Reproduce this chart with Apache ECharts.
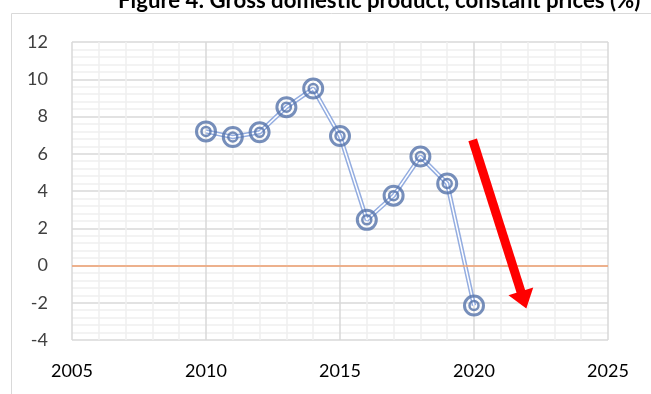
<!DOCTYPE html>
<html>
<head>
<meta charset="utf-8">
<script src="https://cdn.jsdelivr.net/npm/echarts@6/dist/echarts.min.js"></script>
<style>
  html, body { margin: 0; padding: 0; background: #fff; }
  #chart { width: 651px; height: 394px; }
</style>
</head>
<body>
<div id="chart"></div>
<script>
// Annual GDP growth, constant prices (%)
const years = [2010, 2011, 2012, 2013, 2014, 2015, 2016, 2017, 2018, 2019, 2020];
const growth = [7.2, 6.9, 7.15, 8.5, 9.5, 6.95, 2.45, 3.75, 5.85, 4.4, -2.15];
// Downward trend arrow: [year, value] start and end
const arrowStart = [2019.95, 6.75];
const arrowEnd = [2021.85, -1.85];
const zeroLevel = 0;
const titleText = 'Figure 4: Gross domestic product, constant prices (%)';

const points = years.map((y, i) => [y, growth[i]]);
const ringColor = '#5573aa';

const chart = echarts.init(document.getElementById('chart'));
chart.setOption({
  animation: false,
  title: {
    text: titleText,
    left: 113, top: -15,
    textStyle: { fontFamily: 'Lato', fontWeight: 'bold', fontSize: 22.2, color: '#000' }
  },
  graphic: [{
    type: 'rect', shape: { x: 11.5, y: 13.5, width: 700, height: 400 },
    style: { fill: 'none', stroke: '#d9d9d9', lineWidth: 1 }, z: -10
  }],
  grid: { left: 72, right: 43, top: 42, bottom: 54 },
  xAxis: {
    type: 'value', min: 2005, max: 2025, interval: 5,
    axisLine: { show: false }, axisTick: { show: false },
    axisLabel: { color: '#000', fontSize: 18, fontFamily: 'Lato', margin: 22,
      formatter: v => String(v) },
    splitLine: { show: true, lineStyle: { color: '#d9d9d9', width: 1.5 } },
    minorTick: { show: false, splitNumber: 5 },
    minorSplitLine: { show: true, lineStyle: { color: '#efefef', width: 1.5 } }
  },
  yAxis: {
    type: 'value', min: -4, max: 12, interval: 2,
    axisLine: { show: false }, axisTick: { show: false },
    axisLabel: { color: '#404040', fontSize: 18, fontFamily: 'Lato', margin: 24 },
    splitLine: { show: true, lineStyle: { color: '#d9d9d9', width: 1.5 } },
    minorTick: { show: false, splitNumber: 5 },
    minorSplitLine: { show: true, lineStyle: { color: '#efefef', width: 1.5 } }
  },
  series: [
    {
      // outer part of the double line
      type: 'line', data: points, symbol: 'none', z: 2,
      lineStyle: { color: '#94ade0', width: 4.5 },
      markLine: {
        silent: true, symbol: 'none', label: { show: false },
        lineStyle: { color: '#f0a070', width: 1.5, type: 'solid' },
        data: [{ yAxis: zeroLevel }]
      }
    },
    {
      // white core of the double line
      type: 'line', data: points, symbol: 'none', z: 3,
      lineStyle: { color: '#ffffff', width: 1.5 }
    },
    {
      // outer ring of each marker
      type: 'scatter', data: points, symbol: 'circle', symbolSize: 19, z: 4,
      itemStyle: { color: 'rgba(0,0,0,0)', borderColor: ringColor, borderWidth: 3 }
    },
    {
      // inner ring of each marker
      type: 'scatter', data: points, symbol: 'circle', symbolSize: 9, z: 4,
      itemStyle: { color: 'rgba(0,0,0,0)', borderColor: ringColor, borderWidth: 2.5 },
      markLine: {
        silent: true, symbol: ['none', 'triangle'], symbolSize: [26, 18],
        label: { show: false },
        lineStyle: { color: '#ff0000', width: 9, type: 'solid', cap: 'butt' },
        itemStyle: { color: '#ff0000' },
        data: [[{ coord: arrowStart }, { coord: arrowEnd }]]
      }
    }
  ]
});
</script>
</body>
</html>
